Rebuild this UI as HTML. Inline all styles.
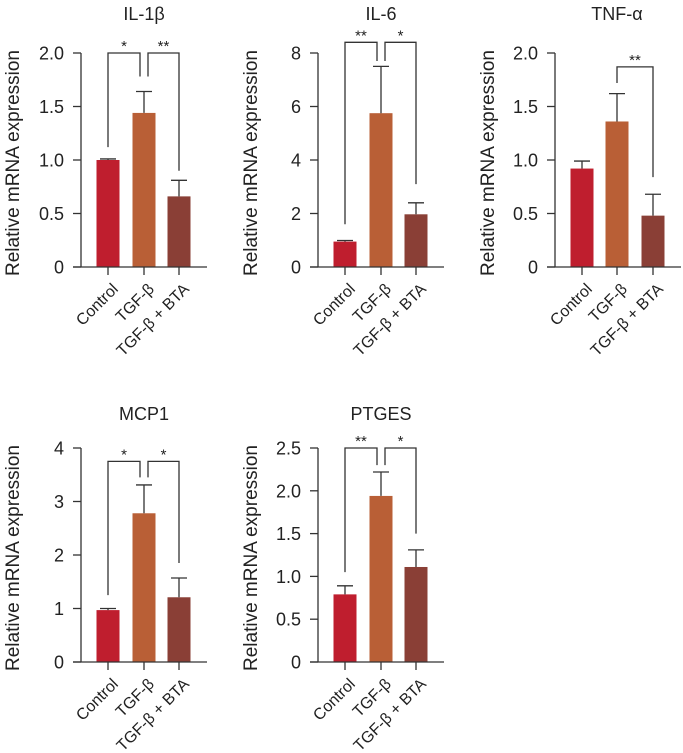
<!DOCTYPE html>
<html><head><meta charset="utf-8"><style>
html,body{margin:0;padding:0;background:#fff;}
svg{display:block;font-family:"Liberation Sans",sans-serif;}
</style></head><body>
<svg id="chart" width="683" height="753" viewBox="0 0 683 753" xmlns="http://www.w3.org/2000/svg"></svg>
<script>
const categories = ["Control", "TGF-β", "TGF-β + BTA"];
const titles = ["IL-1β", "IL-6", "TNF-α", "MCP1", "PTGES"];
const il1bValues = [1.0, 1.44, 0.66];
const il1bErrors = [0.01, 0.2, 0.15];
const il6Values = [0.95, 5.75, 1.97];
const il6Errors = [0.04, 1.75, 0.43];
const tnfValues = [0.92, 1.36, 0.48];
const tnfErrors = [0.07, 0.26, 0.2];
const mcp1Values = [0.97, 2.78, 1.21];
const mcp1Errors = [0.03, 0.53, 0.36];
const ptgesValues = [0.79, 1.94, 1.11];
const ptgesErrors = [0.1, 0.28, 0.2];
const il1bTicks = ["0", "0.5", "1.0", "1.5", "2.0"];
const il6Ticks = ["0", "2", "4", "6", "8"];
const tnfTicks = ["0", "0.5", "1.0", "1.5", "2.0"];
const mcp1Ticks = ["0", "1", "2", "3", "4"];
const ptgesTicks = ["0", "0.5", "1.0", "1.5", "2.0", "2.5"];
const il1bMax = 2, il6Max = 8, tnfMax = 2, mcp1Max = 4, ptgesMax = 2.5;
// significance brackets: [from index, to index, label, left leg value, right leg value, bracket value]
const il1bSig = [[0, 1, "*", 1.12, 1.78, 2.0], [1, 2, "**", 1.78, 0.9, 2.0]];
const il6Sig = [[0, 1, "**", 1.6, 7.7, 8.4], [1, 2, "*", 7.7, 3.1, 8.4]];
const tnfSig = [[1, 2, "**", 1.72, 0.84, 1.87]];
const mcp1Sig = [[0, 1, "*", 1.25, 3.45, 3.75], [1, 2, "*", 3.45, 1.85, 3.75]];
const ptgesSig = [[0, 1, "**", 1.05, 2.3, 2.5], [1, 2, "*", 2.3, 1.5, 2.5]];

const colors = ["#bf1e2e", "#b95f36", "#8a3f36"];
const svg = document.getElementById("chart");
const NS = "http://www.w3.org/2000/svg";
function mk(tag, attrs, parent) {
  const e = document.createElementNS(NS, tag);
  for (const k in attrs) e.setAttribute(k, attrs[k]);
  (parent || svg).appendChild(e);
  return e;
}
const panels = [
  {key:"il1b", title:titles[0], vals:il1bValues, errs:il1bErrors, ticks:il1bTicks, max:il1bMax, sig:il1bSig, ax:81, y0:267, y1:53, cx:[108,144,179], lx:12, tx:144, ty:20},
  {key:"il6", title:titles[1], vals:il6Values, errs:il6Errors, ticks:il6Ticks, max:il6Max, sig:il6Sig, ax:318, y0:267, y1:53, cx:[345,381,416], lx:250, tx:381, ty:20},
  {key:"tnf", title:titles[2], vals:tnfValues, errs:tnfErrors, ticks:tnfTicks, max:tnfMax, sig:tnfSig, ax:555, y0:267, y1:53, cx:[582,617,653], lx:487, tx:617, ty:20},
  {key:"mcp1", title:titles[3], vals:mcp1Values, errs:mcp1Errors, ticks:mcp1Ticks, max:mcp1Max, sig:mcp1Sig, ax:81, y0:662, y1:448, cx:[108,144,179], lx:12, tx:144, ty:420},
  {key:"ptges", title:titles[4], vals:ptgesValues, errs:ptgesErrors, ticks:ptgesTicks, max:ptgesMax, sig:ptgesSig, ax:318, y0:662, y1:448, cx:[345,381,416], lx:250, tx:381, ty:420}
];
panels.forEach(p => {
  const g = mk("g", {});
  
  
  const y = v => p.y0 - (v / p.max) * (p.y0 - p.y1);
  const t = mk("text", {x:p.tx, y:p.ty, "font-size":18, "text-anchor":"middle", fill:"#222"}, g);
  t.textContent = p.title;
  
  
  const yl = mk("text", {x:0, y:0, "font-size":19, "text-anchor":"middle", textLength:226, lengthAdjust:"spacingAndGlyphs", fill:"#222", transform:`translate(${p.lx+7},${(p.y0+p.y1)/2+3}) rotate(-90)`}, g);
  yl.textContent = "Relative mRNA expression";
  
  
  p.vals.forEach((v, i) => {
    const c = p.cx[i], e = p.errs[i];
    const r = mk("rect", {x:c-11.5, y:y(v), width:23, height:p.y0-y(v), fill:colors[i]}, g);
    
    
    const el = mk("path", {d:`M${c},${y(v)}V${y(v+e)}M${c-8},${y(v+e)}H${c+8}`, stroke:"#333", "stroke-width":1.3, fill:"none"}, g);
    
    
  });
  const axis = mk("path", {d:`M${p.ax},${p.y1}V${p.y0}M${p.ax-8},${p.y0}H${p.ax+126}`, stroke:"#333", "stroke-width":1.3, fill:"none"}, g);
  
  
  p.ticks.forEach((tl, i) => {
    const v = i * p.max / (p.ticks.length - 1);
    mk("line", {x1:p.ax-8, x2:p.ax, y1:y(v), y2:y(v), stroke:"#333", "stroke-width":1.3}, g);
    const tt = mk("text", {x:p.ax-17, y:y(v)+6.5, "font-size":18, "text-anchor":"end", fill:"#222"}, g);
    tt.textContent = tl;
    
    
  });
  categories.forEach((cat, i) => {
    const c = p.cx[i];
    mk("line", {x1:c, x2:c, y1:p.y0, y2:p.y0+8, stroke:"#333", "stroke-width":1.3}, g);
    const ct = mk("text", {x:0, y:0, "font-size":16, "text-anchor":"end", fill:"#222", transform:`translate(${c+11},${p.y0+23}) rotate(-45)`}, g);
    ct.textContent = cat;
    
    
  });
  const nSig = p.sig.length;
  p.sig.forEach(s => {
    let xa = p.cx[s[0]], xb = p.cx[s[1]];
    if (nSig > 1) { if (s[0] === 1) xa += 4; if (s[1] === 1) xb -= 4; }
    const by = y(s[5]);
    const br = mk("path", {d:`M${xa},${y(s[3])}V${by}H${xb}V${y(s[4])}`, stroke:"#333", "stroke-width":1.3, fill:"none"}, g);
    
    
    const st = mk("text", {x:(xa+xb)/2, y:by-2, "font-size":15, "text-anchor":"middle", fill:"#222"}, g);
    st.textContent = s[2];
    
    
  });
});
</script>
</body></html>
